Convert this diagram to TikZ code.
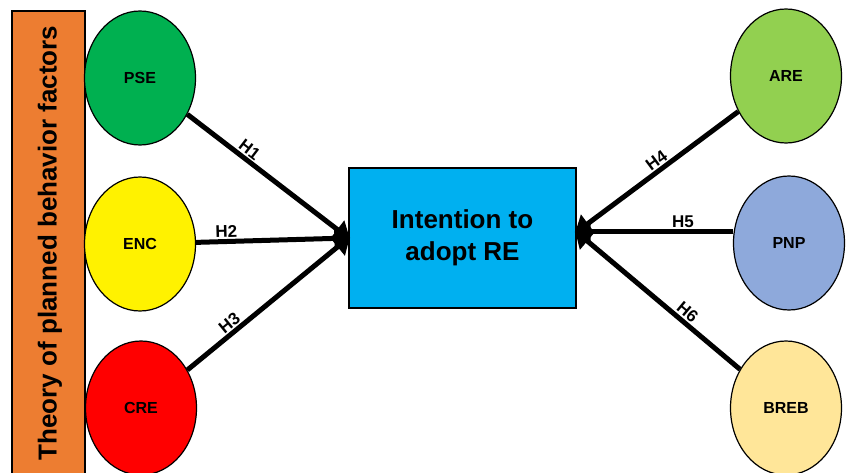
\documentclass[tikz,border=0pt]{standalone}
\usepackage{fontspec}
\setmainfont{Liberation Sans}
\usetikzlibrary{shapes.geometric,arrows.meta}

\definecolor{tpborange}{HTML}{ED7D31}
\definecolor{psegreen}{HTML}{00B050}
\definecolor{areagreen}{HTML}{92D050}
\definecolor{pnpblue}{HTML}{8EA9DB}
\definecolor{brebyellow}{HTML}{FFE699}
\definecolor{intentblue}{HTML}{00B0F0}

\tikzset{
  factor/.style={ellipse,draw,line width=1.2pt,inner sep=0pt,
    minimum width=111pt,minimum height=134pt,
    font=\fontsize{16}{19}\selectfont\bfseries},
  hyp/.style={line width=5pt,-{Triangle[length=16pt,width=22pt]},shorten >=-2pt},
  hyplabel/.style={font=\fontsize{17}{19}\selectfont\bfseries,sloped,above,inner sep=1pt,outer sep=3pt}
}

\begin{document}
\begin{tikzpicture}[x=1pt,y=-1pt]
    \useasboundingbox (0,0) rectangle (846,473);
    %% theory of planned behaviour bar
    \draw[fill=tpborange,line width=1.2pt] (12,11) rectangle (85,480);
    \node[rotate=90,font=\fontsize{26}{30}\selectfont\bfseries] (tpb) at (50,243) {Theory of planned behavior factors};
    %% left factors
    \node[factor,fill=psegreen] (pse) at (140,78) {PSE};
    \node[factor,fill=yellow] (enc) at (140,244) {ENC};
    \node[factor,fill=red] (cre) at (141,408) {CRE};
    %% right factors
    \node[factor,fill=areagreen] (are) at (786,76) {ARE};
    \node[factor,fill=pnpblue] (pnp) at (789,243) {PNP};
    \node[factor,fill=brebyellow] (breb) at (786,408) {BREB};
    %% intention
    \node[draw,fill=intentblue,line width=1.2pt,minimum width=227pt,minimum height=140pt,
      align=center,font=\fontsize{26}{32}\selectfont\bfseries] (intent) at (462.5,238) {Intention to\\adopt RE};
    \coordinate (inleft) at (intent.west);
    \coordinate (inright) at ([yshift=6pt]intent.east);
    %% hypotheses
    \draw[hyp] (pse) -- node[hyplabel,pos=0.35] {H1} (inleft);
    \draw[hyp] (enc) -- node[hyplabel,pos=0.2] {H2} (inleft);
    \draw[hyp] (cre) -- node[hyplabel,pos=0.3] {H3} (inleft);
    \draw[hyp] (are) -- node[hyplabel,pos=0.47] {H4} (inright);
    \draw[hyp] (pnp.west |- inright) -- node[hyplabel,pos=0.32] {H5} (inright);
    \draw[hyp] (breb) -- node[hyplabel,pos=0.36] {H6} (inright);
\end{tikzpicture}
\end{document}
